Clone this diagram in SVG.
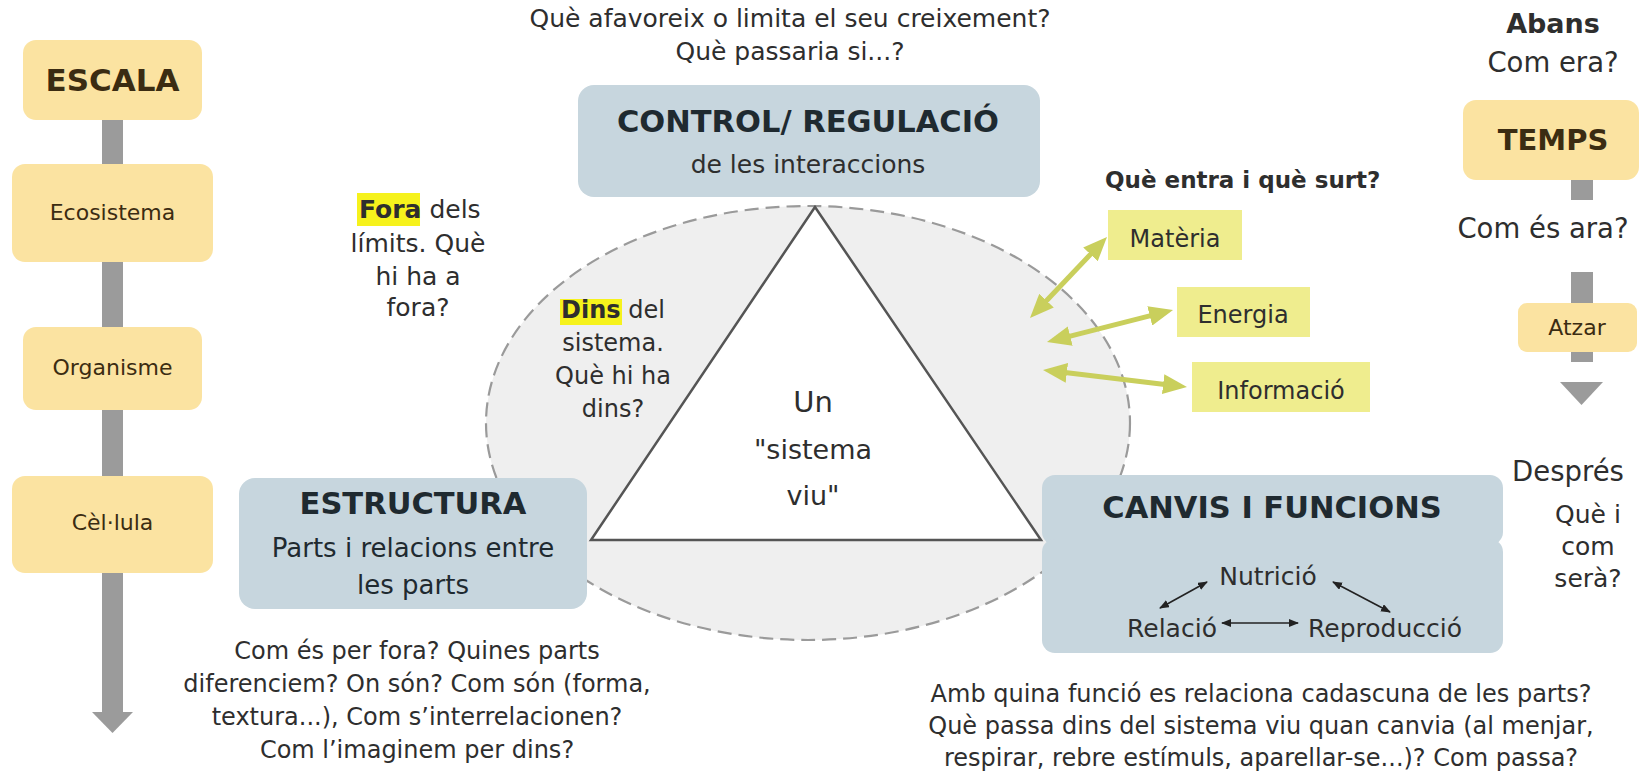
<svg xmlns="http://www.w3.org/2000/svg" width="1640" height="777" viewBox="0 0 1640 777">
<defs>
<style>
text{font-family:"DejaVu Sans","Noto Sans",sans-serif;fill:#2e2e2e}
.yb{fill:#fbe3a1}
.bb{fill:#c7d6de}
.gy{fill:#9b9b9b}
.hl{fill:#f6f21c}
.gb{fill:#efed8e}
.t25{font-size:25px}
.t24{font-size:24px}
.t22{font-size:22px}
.big{font-size:30.5px;font-weight:bold;fill:#1f2a30}
.ybt{fill:#3b2c12}
.ya{stroke:#c9cf5c;stroke-width:5;fill:none}
.ka{stroke:#222;stroke-width:1.6;fill:none}
</style>
<marker id="yah" viewBox="0 0 24 20" refX="6" refY="10" markerWidth="24" markerHeight="20" markerUnits="userSpaceOnUse" orient="auto-start-reverse"><path d="M0,0 L24,10 L0,20 z" fill="#c9cf5c"/></marker>
<marker id="kah" viewBox="0 0 10 8" refX="9" refY="4" markerWidth="10" markerHeight="8" markerUnits="userSpaceOnUse" orient="auto-start-reverse"><path d="M0,0 L10,4 L0,8 z" fill="#222"/></marker>
</defs>
<rect width="1640" height="777" fill="#ffffff"/>

<g id="sistema">
<ellipse cx="808" cy="423" rx="322" ry="217" fill="#efefef" stroke="#9a9a9a" stroke-width="2.2" stroke-dasharray="14 7"/>
<polygon points="815,207 591,540 1041,540" fill="#ffffff" stroke="#555" stroke-width="2.5" stroke-linejoin="miter"/>
<text x="813" y="412" text-anchor="middle" style="font-size:29px">Un</text>
<text x="813" y="459" text-anchor="middle" style="font-size:27px">"sistema</text>
<text x="813" y="505" text-anchor="middle" style="font-size:27px">viu"</text>
</g>

<g id="escala-scale">
<rect class="gy" x="102" y="110" width="21" height="604"/>
<polygon class="gy" points="92,712 133,712 112.5,733"/>
</g>
<g id="escala"><rect class="yb" x="23" y="40" width="179" height="80" rx="13"/><text class="ybt" x="112.5" y="91" text-anchor="middle" style="font-size:31px;font-weight:bold">ESCALA</text></g>
<g id="ecosistema"><rect class="yb" x="12" y="164" width="201" height="98" rx="13"/><text class="ybt t22" x="112.5" y="220" text-anchor="middle">Ecosistema</text></g>
<g id="organisme"><rect class="yb" x="23" y="327" width="179" height="83" rx="13"/><text class="ybt t22" x="112.5" y="375" text-anchor="middle">Organisme</text></g>
<g id="cellula"><rect class="yb" x="12" y="476" width="201" height="97" rx="13"/><text class="ybt t22" x="112.5" y="530" text-anchor="middle">Cèl·lula</text></g>

<g id="temps-scale">
<rect class="gy" x="1571" y="178" width="22" height="22"/>
<rect class="gy" x="1571" y="272" width="22" height="90"/>
<polygon class="gy" points="1560,382 1603,382 1581.5,405"/>
</g>
<g id="abans"><text x="1553" y="33" text-anchor="middle" style="font-size:27px;font-weight:bold">Abans</text><text x="1553" y="72" text-anchor="middle" style="font-size:27.5px">Com era?</text></g>
<g id="temps"><rect class="yb" x="1463" y="100" width="176" height="80" rx="13"/><text class="ybt" x="1553" y="150" text-anchor="middle" style="font-size:29px;font-weight:bold">TEMPS</text></g>
<g id="ara"><text x="1543" y="238" text-anchor="middle" style="font-size:27.5px">Com és ara?</text></g>
<g id="atzar"><rect class="yb" x="1518" y="303" width="119" height="49" rx="9"/><text class="ybt t22" x="1577" y="335" text-anchor="middle">Atzar</text></g>
<g id="despres"><text x="1568" y="481" text-anchor="middle" style="font-size:27.5px">Després</text>
<text class="t25" x="1588" y="523" text-anchor="middle">Què i</text>
<text class="t25" x="1588" y="555" text-anchor="middle">com</text>
<text class="t25" x="1588" y="587" text-anchor="middle">serà?</text></g>

<g id="control">
<text class="t25" x="790" y="27" text-anchor="middle">Què afavoreix o limita el seu creixement?</text>
<text class="t25" x="790" y="60" text-anchor="middle">Què passaria si...?</text>
<rect class="bb" x="578" y="85" width="462" height="112" rx="16"/>
<text class="big" x="808" y="132" text-anchor="middle">CONTROL/ REGULACIÓ</text>
<text class="t25" x="808" y="173" text-anchor="middle">de les interaccions</text>
</g>

<g id="fora">
<rect class="hl" x="357" y="193" width="63" height="33"/>
<text class="t25" x="359" y="218"><tspan font-weight="bold">Fora</tspan> dels</text>
<text class="t25" x="418" y="252" text-anchor="middle">límits. Què</text>
<text class="t25" x="418" y="285" text-anchor="middle">hi ha a</text>
<text class="t25" x="418" y="316" text-anchor="middle">fora?</text>
</g>

<g id="dins">
<rect class="hl" x="560" y="299" width="62" height="26"/>
<text class="t24" x="561" y="318"><tspan font-weight="bold">Dins</tspan> del</text>
<text class="t24" x="613" y="351" text-anchor="middle">sistema.</text>
<text class="t24" x="613" y="384" text-anchor="middle">Què hi ha</text>
<text class="t24" x="613" y="417" text-anchor="middle">dins?</text>
</g>

<g id="estructura">
<rect class="bb" x="239" y="478" width="348" height="131" rx="16"/>
<text class="big" x="413" y="514" text-anchor="middle">ESTRUCTURA</text>
<text x="413" y="557" text-anchor="middle" style="font-size:26px;fill:#1f2a30">Parts i relacions entre</text>
<text x="413" y="594" text-anchor="middle" style="font-size:26px;fill:#1f2a30">les parts</text>
<text class="t24" x="417" y="659" text-anchor="middle">Com és per fora? Quines parts</text>
<text class="t24" x="417" y="692" text-anchor="middle">diferenciem? On són? Com són (forma,</text>
<text class="t24" x="417" y="725" text-anchor="middle">textura...), Com s’interrelacionen?</text>
<text class="t24" x="417" y="758" text-anchor="middle">Com l’imaginem per dins?</text>
</g>

<g id="entrades">
<text x="1105" y="188" style="font-size:23px;font-weight:bold">Què entra i què surt?</text>
<rect class="gb" x="1108" y="210" width="134" height="50"/>
<text class="t24" x="1175" y="247" text-anchor="middle">Matèria</text>
<rect class="gb" x="1177" y="287" width="133" height="50"/>
<text class="t24" x="1243" y="323" text-anchor="middle">Energia</text>
<rect class="gb" x="1192" y="362" width="178" height="50"/>
<text class="t24" x="1281" y="399" text-anchor="middle">Informació</text>
</g>

<g id="canvis">
<rect class="bb" x="1042" y="475" width="461" height="70" rx="13"/>
<rect class="bb" x="1042" y="539" width="461" height="114" rx="13"/>
<text class="big" x="1272" y="518" text-anchor="middle">CANVIS I FUNCIONS</text>
<text class="t25" x="1268" y="585" text-anchor="middle">Nutrició</text>
<text class="t25" x="1172" y="637" text-anchor="middle">Relació</text>
<text class="t25" x="1385" y="637" text-anchor="middle">Reproducció</text>
<text class="t24" x="1261" y="702" text-anchor="middle">Amb quina funció es relaciona cadascuna de les parts?</text>
<text class="t24" x="1261" y="734" text-anchor="middle">Què passa dins del sistema viu quan canvia (al menjar,</text>
<text class="t24" x="1261" y="766" text-anchor="middle">respirar, rebre estímuls, aparellar-se...)? Com passa?</text>
</g>

<g id="connectors">
<line class="ya" x1="1042.4" y1="305" x2="1094.6" y2="250" marker-start="url(#yah)" marker-end="url(#yah)"/>
<line class="ya" x1="1064.4" y1="337.6" x2="1155.6" y2="314.4" marker-start="url(#yah)" marker-end="url(#yah)"/>
<line class="ya" x1="1060.9" y1="372.1" x2="1169.1" y2="384.9" marker-start="url(#yah)" marker-end="url(#yah)"/>
<line class="ka" x1="1207" y1="582" x2="1160" y2="608" marker-start="url(#kah)" marker-end="url(#kah)"/>
<line class="ka" x1="1333" y1="582" x2="1390" y2="612" marker-start="url(#kah)" marker-end="url(#kah)"/>
<line class="ka" x1="1222" y1="623" x2="1298" y2="623" marker-start="url(#kah)" marker-end="url(#kah)"/>
</g>
</svg>
